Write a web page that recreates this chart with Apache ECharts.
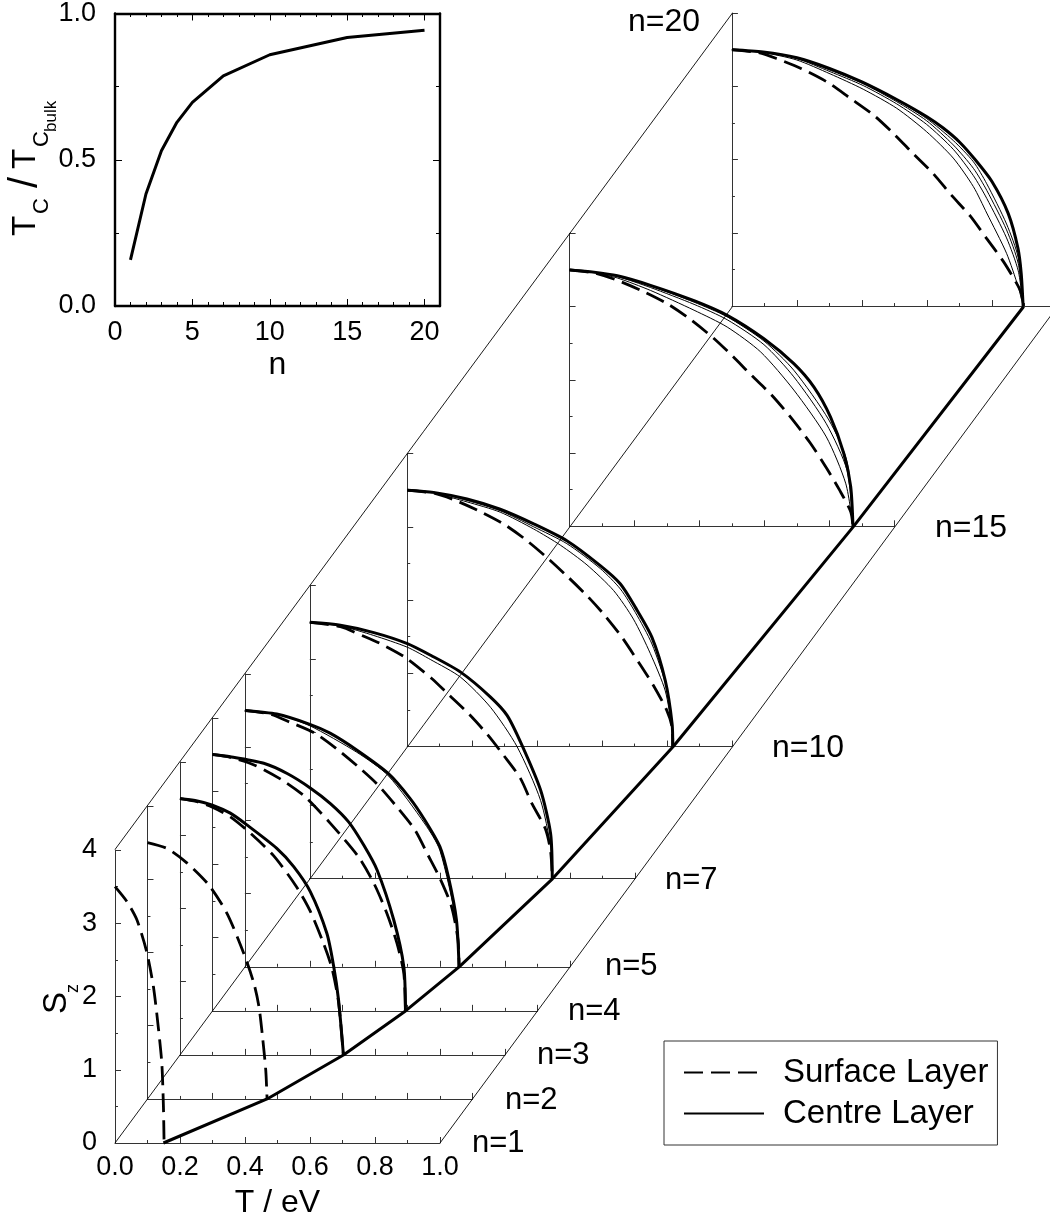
<!DOCTYPE html>
<html>
<head>
<meta charset="utf-8">
<title>Sz vs T for n layers</title>
<script src="https://cdn.jsdelivr.net/npm/echarts@6/dist/echarts.min.js"></script>
<style>
  html, body { margin: 0; background: #fff; }
  #main { width: 1050px; height: 1220px; }
</style>
</head>
<body>
<div id="main"></div>
<script>
// film thicknesses, one panel each
const layerCounts = [1, 2, 3, 4, 5, 7, 10, 15, 20];

// inset: Tc / Tc bulk against n
const insetRatio = [0.158, 0.383, 0.531, 0.628, 0.696, 0.787, 0.859, 0.918, 0.943];
const insetMajorTicks = [0, 5, 10, 15, 20];
const insetMinorTicks = [1, 2, 3, 4, 6, 7, 8, 9, 11, 12, 13, 14, 16, 17, 18, 19];

// Tc of the centre layer, read on the floor of each panel
const floorTc = [0.149, 0.368, 0.503, 0.594, 0.659, 0.746, 0.817, 0.872, 0.896];

// [T, Sz]
const surfaceN1 = [[0, 3.5], [0.036, 3.3], [0.067, 3.05], [0.097, 2.62], [0.118, 2.14], [0.133, 1.59], [0.144, 1.09], [0.149, 0.5], [0.151, 0]];
const surfaceN2 = [[0, 3.5], [0.06, 3.42], [0.122, 3.22], [0.189, 2.92], [0.245, 2.53], [0.297, 1.98], [0.328, 1.57], [0.343, 1.26], [0.354, 0.85], [0.364, 0.39], [0.368, 0]];
const surfaceN3 = [[0, 3.5], [0.05, 3.46], [0.1, 3.38], [0.155, 3.25], [0.216, 3.03], [0.288, 2.72], [0.358, 2.3], [0.399, 1.98], [0.442, 1.52], [0.468, 1.18], [0.488, 0.72], [0.503, 0]];
const surfaceN4 = [[0, 3.5], [0.055, 3.46], [0.132, 3.35], [0.215, 3.15], [0.286, 2.92], [0.363, 2.56], [0.45, 2.1], [0.497, 1.74], [0.537, 1.33], [0.568, 0.92], [0.589, 0.51], [0.594, 0]];
const surfaceN5 = [[0, 3.5], [0.077, 3.45], [0.138, 3.34], [0.215, 3.19], [0.287, 2.96], [0.354, 2.71], [0.41, 2.48], [0.472, 2.16], [0.523, 1.87], [0.564, 1.52], [0.6, 1.21], [0.636, 0.82], [0.656, 0.36], [0.659, 0]];
const surfaceN7 = [[0, 3.5], [0.094, 3.44], [0.166, 3.31], [0.217, 3.21], [0.294, 3.02], [0.376, 2.73], [0.423, 2.53], [0.489, 2.25], [0.546, 1.97], [0.597, 1.68], [0.648, 1.37], [0.684, 1.02], [0.725, 0.68], [0.741, 0.37], [0.746, 0]];
const surfaceN10 = [[0, 3.5], [0.081, 3.46], [0.143, 3.37], [0.219, 3.22], [0.296, 3.04], [0.363, 2.83], [0.43, 2.58], [0.491, 2.33], [0.553, 2.06], [0.604, 1.81], [0.661, 1.49], [0.712, 1.15], [0.758, 0.83], [0.799, 0.49], [0.815, 0.26], [0.817, 0]];
const surfaceN15 = [[0, 3.5], [0.075, 3.46], [0.14, 3.37], [0.22, 3.22], [0.3, 3.04], [0.37, 2.83], [0.44, 2.58], [0.5, 2.33], [0.56, 2.06], [0.62, 1.8], [0.68, 1.49], [0.74, 1.14], [0.79, 0.8], [0.83, 0.5], [0.865, 0.2], [0.872, 0]];
const surfaceN20 = [[0, 3.5], [0.081, 3.46], [0.137, 3.38], [0.214, 3.24], [0.296, 3.05], [0.363, 2.84], [0.435, 2.61], [0.496, 2.36], [0.558, 2.08], [0.619, 1.81], [0.676, 1.51], [0.733, 1.23], [0.784, 0.92], [0.835, 0.61], [0.876, 0.31], [0.891, 0.17], [0.896, 0]];

const centreN3 = [[0, 3.5], [0.05, 3.47], [0.1, 3.41], [0.155, 3.3], [0.206, 3.14], [0.298, 2.82], [0.35, 2.57], [0.401, 2.23], [0.452, 1.66], [0.473, 1.21], [0.488, 0.75], [0.503, 0]];
const centreN4 = [[0, 3.5], [0.055, 3.47], [0.158, 3.38], [0.23, 3.24], [0.302, 3.04], [0.363, 2.83], [0.419, 2.58], [0.466, 2.26], [0.507, 1.92], [0.558, 1.24], [0.589, 0.6], [0.594, 0]];
const centreN5 = [[0, 3.5], [0.098, 3.45], [0.2, 3.31], [0.262, 3.19], [0.344, 2.96], [0.441, 2.64], [0.508, 2.3], [0.554, 2], [0.6, 1.64], [0.626, 1.23], [0.651, 0.64], [0.659, 0]];
const centreN7 = [[0, 3.5], [0.094, 3.46], [0.197, 3.36], [0.3, 3.21], [0.372, 3.05], [0.464, 2.82], [0.556, 2.48], [0.607, 2.23], [0.653, 1.82], [0.71, 1.21], [0.741, 0.61], [0.746, 0]];
const centreN10 = [[0, 3.5], [0.081, 3.47], [0.184, 3.38], [0.286, 3.24], [0.389, 3.04], [0.491, 2.81], [0.594, 2.47], [0.656, 2.22], [0.702, 1.9], [0.753, 1.49], [0.794, 0.9], [0.815, 0.31], [0.817, 0]];
const centreN15 = [[0, 3.5], [0.075, 3.47], [0.147, 3.42], [0.249, 3.29], [0.383, 3.08], [0.485, 2.88], [0.598, 2.56], [0.69, 2.22], [0.752, 1.9], [0.803, 1.49], [0.844, 0.99], [0.865, 0.54], [0.872, 0]];
const centreN20 = [[0, 3.5], [0.096, 3.47], [0.2, 3.39], [0.3, 3.245], [0.4, 3.06], [0.507, 2.82], [0.6, 2.585], [0.65, 2.43], [0.7, 2.24], [0.75, 1.99], [0.8, 1.7], [0.85, 1.265], [0.88, 0.79], [0.89, 0.45], [0.896, 0]];

// layers between surface and centre
const innerN5 = [[0, 3.5], [0.098, 3.45], [0.2, 3.29], [0.344, 2.93], [0.441, 2.61], [0.554, 1.95], [0.6, 1.59], [0.651, 0.59], [0.659, 0]];
const innerN7 = [[0, 3.5], [0.094, 3.45], [0.197, 3.32], [0.3, 3.16], [0.372, 2.99], [0.464, 2.75], [0.556, 2.34], [0.638, 1.8], [0.71, 1.07], [0.741, 0.43], [0.746, 0]];
const innerN10a = [[0, 3.5], [0.081, 3.46], [0.184, 3.34], [0.286, 3.2], [0.389, 2.97], [0.471, 2.75], [0.553, 2.48], [0.635, 2.13], [0.696, 1.74], [0.748, 1.27], [0.794, 0.76], [0.815, 0.22], [0.817, 0]];
const innerN10b = [[0, 3.5], [0.081, 3.47], [0.184, 3.36], [0.286, 3.22], [0.389, 3], [0.491, 2.77], [0.594, 2.43], [0.656, 2.15], [0.702, 1.83], [0.753, 1.4], [0.799, 0.79], [0.815, 0.26], [0.817, 0]];
const innerN15a = [[0, 3.5], [0.075, 3.46], [0.147, 3.39], [0.249, 3.22], [0.383, 2.95], [0.485, 2.72], [0.588, 2.38], [0.69, 1.86], [0.79, 1.22], [0.85, 0.58], [0.872, 0]];
const innerN15b = [[0, 3.5], [0.075, 3.47], [0.147, 3.41], [0.249, 3.26], [0.383, 3.03], [0.485, 2.82], [0.598, 2.48], [0.69, 2.04], [0.79, 1.4], [0.854, 0.76], [0.872, 0]];
const innerN15c = [[0, 3.5], [0.075, 3.47], [0.147, 3.42], [0.249, 3.28], [0.383, 3.06], [0.485, 2.86], [0.598, 2.53], [0.69, 2.13], [0.798, 1.45], [0.854, 0.88], [0.872, 0]];
const innerN20a = [[0, 3.5], [0.096, 3.46], [0.199, 3.36], [0.302, 3.17], [0.404, 2.96], [0.507, 2.7], [0.599, 2.38], [0.681, 2.02], [0.743, 1.63], [0.784, 1.27], [0.845, 0.72], [0.881, 0.26], [0.896, 0]];
const innerN20b = [[0, 3.5], [0.096, 3.47], [0.199, 3.38], [0.302, 3.2], [0.404, 3.01], [0.507, 2.76], [0.599, 2.48], [0.681, 2.14], [0.743, 1.78], [0.784, 1.47], [0.845, 0.93], [0.881, 0.48], [0.896, 0]];
const innerN20c = [[0, 3.5], [0.096, 3.47], [0.199, 3.385], [0.302, 3.22], [0.404, 3.035], [0.507, 2.79], [0.599, 2.53], [0.681, 2.2], [0.743, 1.88], [0.784, 1.58], [0.845, 1.04], [0.881, 0.58], [0.896, 0]];
const innerN20d = [[0, 3.5], [0.096, 3.47], [0.199, 3.39], [0.302, 3.235], [0.404, 3.05], [0.507, 2.81], [0.599, 2.56], [0.681, 2.26], [0.743, 1.97], [0.784, 1.67], [0.845, 1.12], [0.881, 0.66], [0.896, 0]];

const surfaceCurves = [surfaceN1, surfaceN2, surfaceN3, surfaceN4, surfaceN5, surfaceN7, surfaceN10, surfaceN15, surfaceN20];
const centreCurves = [null, null, centreN3, centreN4, centreN5, centreN7, centreN10, centreN15, centreN20];
const innerCurves = [[], [], [], [], [innerN5], [innerN7], [innerN10a, innerN10b], [innerN15a, innerN15b, innerN15c], [innerN20a, innerN20b, innerN20c, innerN20d]];

// layout of the oblique projection
const pageW = 1050;
const originX = 115, originY = 1143;
const panelW = 325, panelH = 293;
const depthX = 32.47, depthY = 44.05;   // px per unit of n
const shiftT = 0.1, shiftS = 0.6;       // same step in axis units of the backdrop grid
const fontFace = '"Liberation Sans", Arial, sans-serif';
const tickSize = 27;
const titleSize = 32;
const smoothness = 0.25;

const grids = [], xAxes = [], yAxes = [], series = [];

function hiddenAxis(extra) {
  return Object.assign({ show: false, type: 'value' }, extra);
}

// backdrop grid: carries the oblique edges and the Tc line on the floor
grids.push({ left: originX, top: 13, width: pageW - originX, height: 1130 });
xAxes.push(hiddenAxis({ gridIndex: 0, min: 0, max: (pageW - originX) / panelW }));
yAxes.push(hiddenAxis({ gridIndex: 0, min: 0, max: 15.4 }));

const lastDepth = layerCounts[layerCounts.length - 1] - 1;
[[0, 0], [0, 4], [1, 0]].forEach(function (start) {
  series.push({
    type: 'line', xAxisIndex: 0, yAxisIndex: 0, symbol: 'none', silent: true,
    lineStyle: { color: '#000', width: 0.9 },
    data: [start, [start[0] + lastDepth * shiftT, start[1] + lastDepth * shiftS]]
  });
});
series.push({
  type: 'line', xAxisIndex: 0, yAxisIndex: 0, symbol: 'none', silent: true, clip: false,
  lineStyle: { color: '#000', width: 3 },
  data: floorTc.map(function (t, i) {
    return [t + (layerCounts[i] - 1) * shiftT, (layerCounts[i] - 1) * shiftS];
  })
});

// one grid per film thickness
layerCounts.forEach(function (n, i) {
  const idx = grids.length;
  const d = n - 1;
  const isFront = i === 0;
  const left = originX + d * depthX;
  // the last panel runs off the page, keep its px per eV the same
  const width = Math.min(panelW, pageW - left);
  grids.push({
    left: left,
    top: originY - d * depthY - panelH,
    width: width,
    height: panelH
  });
  xAxes.push({
    gridIndex: idx, type: 'value', min: 0, max: width / panelW, interval: 0.2,
    splitLine: { show: false },
    axisLine: { lineStyle: { color: '#333', width: 1 } },
    axisTick: { inside: true, length: 6, lineStyle: { color: '#333', width: 1 } },
    minorTick: { show: true, splitNumber: 2, length: 3, lineStyle: { color: '#333', width: 1 } },
    axisLabel: {
      show: isFront, margin: 11, color: '#000', fontFamily: fontFace, fontSize: tickSize,
      formatter: function (v) { return v.toFixed(1); }
    },
    name: isFront ? 'T / eV' : '',
    nameLocation: 'center', nameGap: 44,
    nameTextStyle: { color: '#000', fontFamily: fontFace, fontSize: titleSize }
  });
  yAxes.push({
    gridIndex: idx, type: 'value', min: 0, max: 4, interval: 1,
    splitLine: { show: false },
    axisLine: { lineStyle: { color: '#333', width: 1 } },
    axisTick: { inside: true, length: 6, lineStyle: { color: '#333', width: 1 } },
    minorTick: { show: true, splitNumber: 2, length: 3, lineStyle: { color: '#333', width: 1 } },
    axisLabel: { show: isFront, margin: 18, color: '#000', fontFamily: fontFace, fontSize: tickSize }
  });

  innerCurves[i].forEach(function (curve) {
    series.push({
      type: 'line', xAxisIndex: idx, yAxisIndex: idx, symbol: 'none', silent: true, clip: false,
      smooth: smoothness,
      lineStyle: { color: '#000', width: 1 }, data: curve
    });
  });
  series.push({
    name: 'Surface Layer',
    type: 'line', xAxisIndex: idx, yAxisIndex: idx, symbol: 'none', silent: true, clip: false,
    smooth: smoothness,
    lineStyle: { color: '#000', width: 2.8, type: [19, 8] }, data: surfaceCurves[i]
  });
  if (centreCurves[i]) {
    series.push({
      name: 'Centre Layer',
      type: 'line', xAxisIndex: idx, yAxisIndex: idx, symbol: 'none', silent: true, clip: false,
      smooth: smoothness,
      lineStyle: { color: '#000', width: 3 }, data: centreCurves[i]
    });
  }
});

// inset, boxed with ticks on all four sides
const insetIdx = grids.length;
grids.push({ left: 115, top: 13, width: 325, height: 293 });
const frameLine = { lineStyle: { color: '#000', width: 2.4 } };
const tickLine = { color: '#000', width: 1 };
xAxes.push({
  gridIndex: insetIdx, type: 'value', min: 0, max: 21, interval: 5, position: 'bottom',
  splitLine: { show: false }, axisLine: Object.assign({ onZero: false }, frameLine),
  axisTick: { inside: true, length: 7, lineStyle: tickLine, customValues: insetMajorTicks },
  axisLabel: { margin: 13, color: '#000', fontFamily: fontFace, fontSize: tickSize, customValues: insetMajorTicks },
  name: 'n', nameLocation: 'center', nameGap: 43,
  nameTextStyle: { color: '#000', fontFamily: fontFace, fontSize: titleSize }
});
xAxes.push({
  gridIndex: insetIdx, type: 'value', min: 0, max: 21, interval: 5, position: 'top',
  splitLine: { show: false }, axisLine: Object.assign({ onZero: false }, frameLine),
  axisTick: { inside: true, length: 7, lineStyle: tickLine, customValues: insetMajorTicks },
  axisLabel: { show: false }
});
yAxes.push({
  gridIndex: insetIdx, type: 'value', min: 0, max: 1, interval: 0.5, position: 'left',
  splitLine: { show: false }, axisLine: Object.assign({ onZero: false }, frameLine),
  axisTick: { inside: true, length: 7, lineStyle: tickLine },
  minorTick: { show: true, splitNumber: 2, length: 4, lineStyle: tickLine },
  axisLabel: {
    margin: 19, color: '#000', fontFamily: fontFace, fontSize: tickSize,
    formatter: function (v) { return v.toFixed(1); }
  }
});
yAxes.push({
  gridIndex: insetIdx, type: 'value', min: 0, max: 1, interval: 0.5, position: 'right',
  splitLine: { show: false }, axisLine: Object.assign({ onZero: false }, frameLine),
  axisTick: { inside: true, length: 7, lineStyle: tickLine },
  minorTick: { show: true, splitNumber: 2, length: 4, lineStyle: tickLine },
  axisLabel: { show: false }
});
series.push({
  type: 'line', xAxisIndex: xAxes.length - 2, yAxisIndex: yAxes.length - 2, symbol: 'none', silent: true,
  lineStyle: { color: '#000', width: 3 },
  data: layerCounts.map(function (n, i) { return [n, insetRatio[i]]; })
});

// minor n ticks sit on their own grid, the last interval of the main axis is not a full 5
const insetMinorIdx = grids.length;
grids.push({ left: 115, top: 13, width: 325, height: 293 });
['bottom', 'top'].forEach(function (pos) {
  xAxes.push({
    gridIndex: insetMinorIdx, type: 'value', min: 0, max: 21, interval: 1, position: pos,
    splitLine: { show: false }, axisLine: { show: false, onZero: false }, axisLabel: { show: false },
    axisTick: { inside: true, length: 4, lineStyle: tickLine, customValues: insetMinorTicks }
  });
});
yAxes.push(hiddenAxis({ gridIndex: insetMinorIdx, min: 0, max: 1 }));

function textAt(x, y, text, size, rotation) {
  return {
    type: 'text', x: x, y: y, rotation: rotation || 0, silent: true,
    style: { text: text, fill: '#000', font: size + 'px ' + fontFace, textAlign: 'left', textVerticalAlign: 'middle' }
  };
}

const quarter = Math.PI / 2;
const graphicItems = [
  textAt(472, 1143, 'n=1', 31), textAt(505, 1100, 'n=2', 31), textAt(537, 1055, 'n=3', 31),
  textAt(568, 1011, 'n=4', 31), textAt(605, 966, 'n=5', 31), textAt(665, 880, 'n=7', 31),
  textAt(772, 748, 'n=10', 32), textAt(935, 528, 'n=15', 32), textAt(628, 22, 'n=20', 32),
  // inset y title, reading upwards
  textAt(26, 236, 'T', 33, quarter),
  textAt(42, 214, 'C', 22, quarter),
  textAt(26, 188, '/', 40, quarter),
  textAt(26, 169, 'T', 33, quarter),
  textAt(42, 147, 'C', 22, quarter),
  textAt(51, 132, 'bulk', 17, quarter),
  // Sz title
  textAt(57, 1014, 'S', 33, quarter),
  textAt(73, 993, 'z', 18, quarter)
];

const chart = echarts.init(document.getElementById('main'));
chart.setOption({
  animation: false,
  backgroundColor: '#fff',
  legend: {
    data: ['Surface Layer', 'Centre Layer'],
    orient: 'vertical', left: 664, top: 1041,
    padding: [15, 9, 15, 19],
    itemWidth: 80, itemHeight: 20, itemGap: 8,
    borderColor: '#333', borderWidth: 1,
    selectedMode: false,
    itemStyle: { opacity: 0 },
    lineStyle: { width: 2 },
    textStyle: { color: '#000', fontFamily: fontFace, fontSize: 33, padding: [0, 0, 0, 14] }
  },
  grid: grids,
  xAxis: xAxes,
  yAxis: yAxes,
  series: series,
  graphic: graphicItems
});
</script>
</body>
</html>
